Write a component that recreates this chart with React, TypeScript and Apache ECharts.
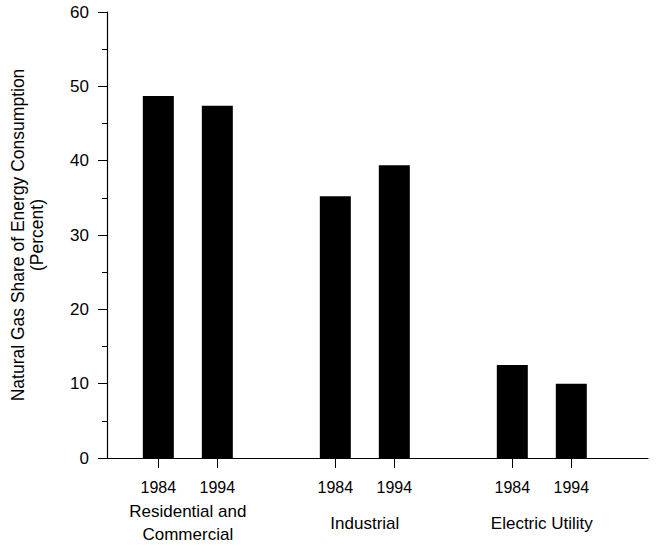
import React, { useEffect, useRef } from "react";
import * as echarts from "echarts";

const groups = ["Residential and\nCommercial", "Industrial", "Electric Utility"];
const groupCenters = [1.5, 4.5, 7.5];
const years = ["1984", "1994", "1984", "1994", "1984", "1994"];
const positions = [1, 2, 4, 5, 7, 8];
const values = [48.7, 47.4, 35.2, 39.4, 12.5, 10.0];
const yTicks = [0, 10, 20, 30, 40, 50, 60];

const FONT = "Liberation Sans, Arial, sans-serif";

export default function App() {
  const ref = useRef<HTMLDivElement>(null);
  useEffect(() => {
    const chart = echarts.init(ref.current!, null, { renderer: "svg" });
    const xMin = 0.13;
    const xMax = 9.3;
    chart.setOption({
      animation: false,
      backgroundColor: "#ffffff",
      grid: { left: 91, right: 14, top: 12, bottom: 88, containLabel: false },
      xAxis: [
        {
          type: "value",
          min: xMin,
          max: xMax,
          splitLine: { show: false },
          axisLine: { show: true, onZero: false, lineStyle: { color: "#000", width: 1.2 } },
          axisTick: {
            show: true,
            customValues: positions,
            length: 10,
            lineStyle: { color: "#000", width: 1 },
          },
          axisLabel: {
            customValues: positions,
            formatter: (v: number) => {
              const i = positions.indexOf(Math.round(v));
              return i >= 0 ? years[i] : "";
            },
            margin: 21,
            fontSize: 16,
            fontFamily: FONT,
            color: "#000",
          },
        },
        {
          type: "value",
          position: "bottom",
          min: xMin,
          max: xMax,
          splitLine: { show: false },
          axisLine: { show: false },
          axisTick: { show: false },
          axisLabel: {
            customValues: groupCenters,
            formatter: (v: number) => {
              const i = groupCenters.indexOf(v);
              return i >= 0 ? groups[i] : "";
            },
            margin: 65,
            verticalAlign: "middle",
            align: "center",
            lineHeight: 23,
            fontSize: 17,
            fontFamily: FONT,
            color: "#000",
          },
        },
      ],
      yAxis: {
        type: "value",
        min: yTicks[0],
        max: yTicks[yTicks.length - 1],
        interval: 10,
        splitLine: { show: false },
        axisLine: { show: true, lineStyle: { color: "#000", width: 1.2 } },
        axisTick: { show: true, length: 9, lineStyle: { color: "#000" } },
        minorTick: { show: true, splitNumber: 2, length: 5, lineStyle: { color: "#000" } },
        axisLabel: { margin: 18, fontSize: 17, fontFamily: FONT, color: "#000" },
        name: "Natural Gas Share of Energy Consumption\n(Percent)",
        nameLocation: "middle",
        nameGap: 61,
        nameTextStyle: { fontSize: 17.5, fontFamily: FONT, color: "#000", lineHeight: 19, align: "center" },
      },
      series: [
        {
          type: "bar",
          xAxisIndex: 0,
          barWidth: 31,
          data: positions.map((p, i) => [p, values[i]]),
          itemStyle: { color: "#000" },
        },
      ],
    });
    return () => chart.dispose();
  }, []);
  return (
    <div
      ref={ref}
      style={{ position: "absolute", left: 0, top: 0, width: 662, height: 546 }}
    />
  );
}
